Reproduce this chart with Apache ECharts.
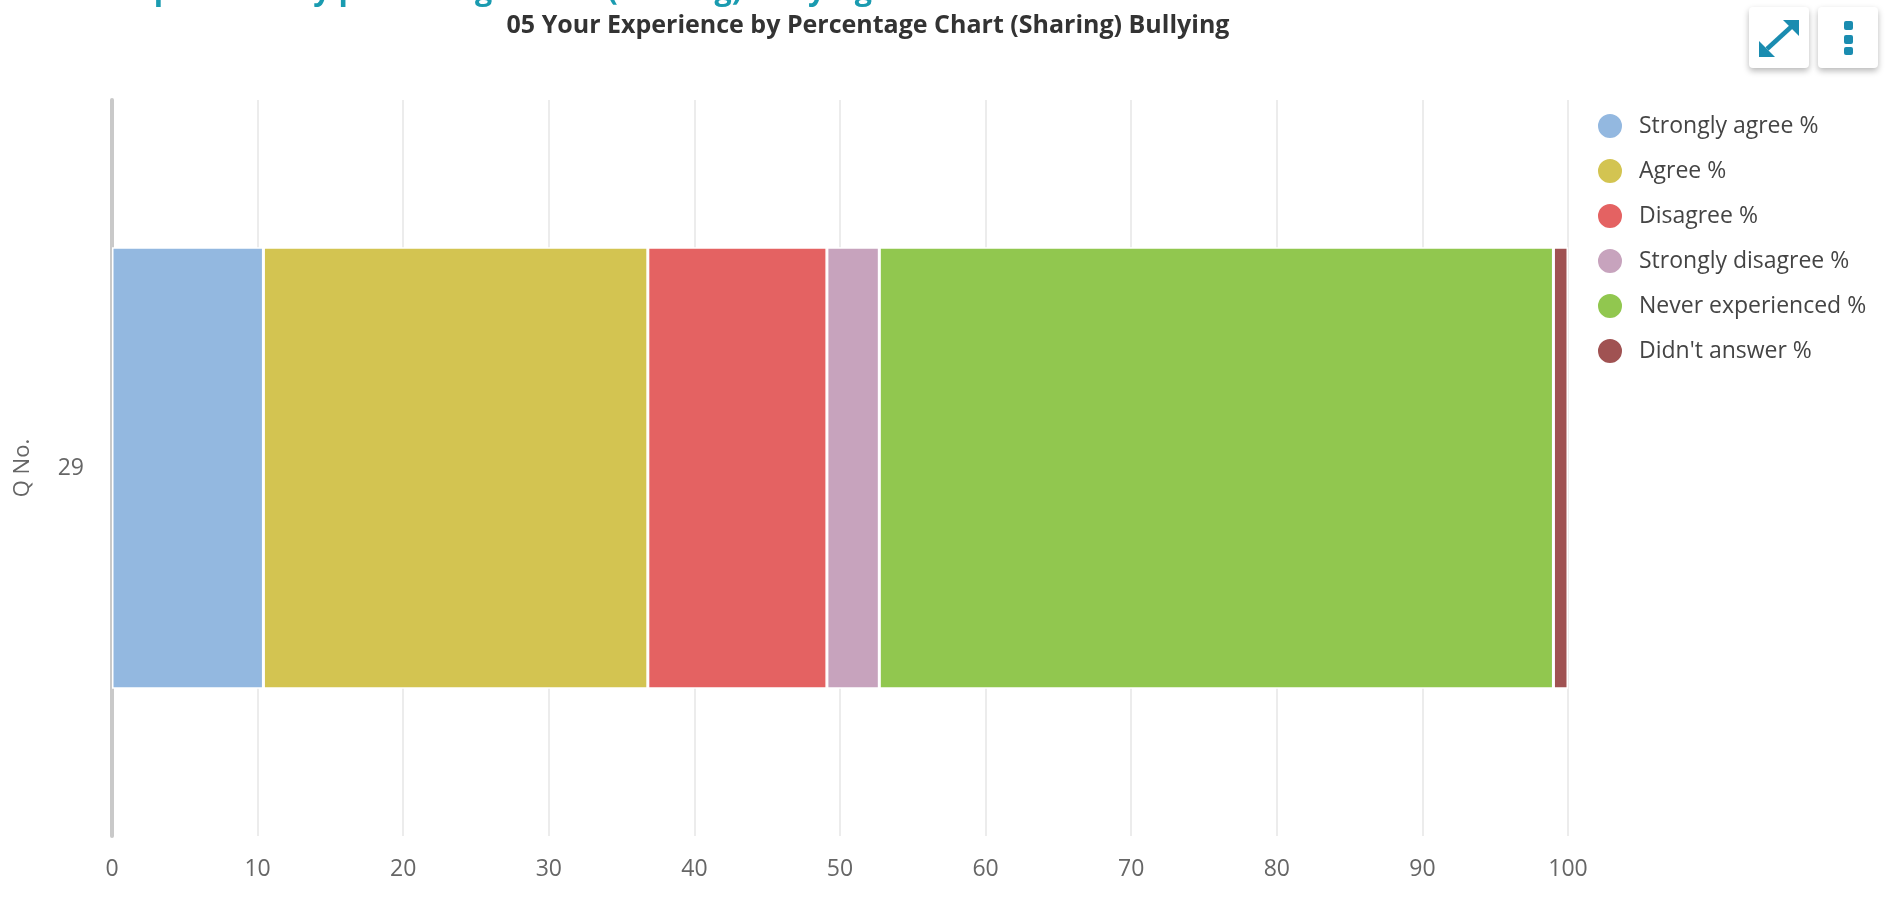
<!DOCTYPE html>
<html>
<head>
<meta charset="utf-8">
<script src="https://cdn.jsdelivr.net/npm/echarts@6/dist/echarts.min.js"></script>
<style>
  html, body { margin: 0; padding: 0; background: #fff; }
  #chart { width: 1887px; height: 902px; }
</style>
</head>
<body>
<div id="chart"></div>
<script>
const categories = ['29'];
const seriesNames = ['Strongly agree %', 'Agree %', 'Disagree %', 'Strongly disagree %', 'Never experienced %', "Didn't answer %"];
const stronglyAgree = [10.4];
const agree = [26.4];
const disagree = [12.3];
const stronglyDisagree = [3.6];
const neverExperienced = [46.3];
const didntAnswer = [1.0];
const xTicks = [0, 10, 20, 30, 40, 50, 60, 70, 80, 90, 100];
const colors = ['#93b8e0', '#d3c451', '#e46262', '#c7a3bd', '#91c74f', '#a05252'];
const titleText = '05 Your Experience by Percentage Chart (Sharing) Bullying';
const pageHeading = '05 Your experience by percentage chart (sharing) bullying';

const seriesValues = [stronglyAgree, agree, disagree, stronglyDisagree, neverExperienced, didntAnswer];
const FONT = '"Open Sans", "Noto Sans", sans-serif';

const chart = echarts.init(document.getElementById('chart'));
chart.setOption({
  animation: false,
  color: colors,
  textStyle: { fontFamily: FONT },
  title: {
    text: titleText,
    left: 863,
    textAlign: 'center',
    top: 8,
    textStyle: { fontSize: 25, fontWeight: 'bold', color: '#333', fontFamily: FONT }
  },
  legend: {
    orient: 'vertical',
    left: 1591,
    top: 107,
    icon: 'circle',
    itemWidth: 26,
    itemHeight: 26,
    itemGap: 17,
    data: seriesNames,
    textStyle: { fontSize: 23, color: '#444', fontFamily: FONT, padding: [0, 0, 0, 11] }
  },
  grid: { left: 112, right: 319, top: 100, bottom: 66, containLabel: false },
  xAxis: {
    type: 'value',
    min: xTicks[0],
    max: xTicks[xTicks.length - 1],
    interval: 10,
    axisLine: { show: false },
    axisTick: { show: false },
    axisLabel: { color: '#666', fontSize: 23, margin: 22, fontFamily: FONT },
    splitLine: { show: true, lineStyle: { color: '#e6e6e6', width: 1.5 } }
  },
  yAxis: {
    type: 'category',
    data: categories,
    name: 'Q No.',
    nameLocation: 'middle',
    nameGap: 78,
    nameRotate: 90,
    nameTextStyle: { color: '#666', fontSize: 22, fontFamily: FONT },
    axisLine: { show: true, lineStyle: { color: '#c9c9c9', width: 4 } },
    axisTick: { show: false },
    axisLabel: { color: '#666', fontSize: 23, margin: 28, fontFamily: FONT }
  },
  series: seriesNames.map((name, i) => ({
    name: name,
    type: 'bar',
    stack: 'total',
    barWidth: '60%',
    data: seriesValues[i],
    itemStyle: { borderColor: '#fff', borderWidth: 1.5 }
  })),
  graphic: [
    {
      type: 'text',
      x: 872, y: -24,
      style: {
        text: pageHeading,
        textAlign: 'right',
        textVerticalAlign: 'top',
        font: 'bold 30.5px ' + FONT,
        fill: '#1a9bb0'
      }
    },
    {
      type: 'rect',
      shape: { x: 1749, y: 7, width: 60, height: 61, r: 4 },
      style: { fill: '#fff', shadowBlur: 6, shadowOffsetY: 3, shadowColor: 'rgba(0,0,0,0.28)' }
    },
    {
      type: 'rect',
      shape: { x: 1818, y: 7, width: 60, height: 61, r: 4 },
      style: { fill: '#fff', shadowBlur: 6, shadowOffsetY: 3, shadowColor: 'rgba(0,0,0,0.28)' }
    },
    {
      type: 'line',
      shape: { x1: 1767, y1: 49, x2: 1791, y2: 27 },
      style: { stroke: '#1a8cb0', lineWidth: 4.5 }
    },
    {
      type: 'polygon',
      shape: { points: [[1799, 20], [1799, 36], [1783, 20]] },
      style: { fill: '#1a8cb0' }
    },
    {
      type: 'polygon',
      shape: { points: [[1759, 57], [1759, 41], [1775, 57]] },
      style: { fill: '#1a8cb0' }
    },
    { type: 'rect', shape: { x: 1844, y: 21, width: 9, height: 9, r: 2 }, style: { fill: '#1a8cb0' } },
    { type: 'rect', shape: { x: 1844, y: 35, width: 9, height: 9, r: 2 }, style: { fill: '#1a8cb0' } },
    { type: 'rect', shape: { x: 1844, y: 47, width: 9, height: 8, r: 2 }, style: { fill: '#1a8cb0' } }
  ]
});
</script>
</body>
</html>
